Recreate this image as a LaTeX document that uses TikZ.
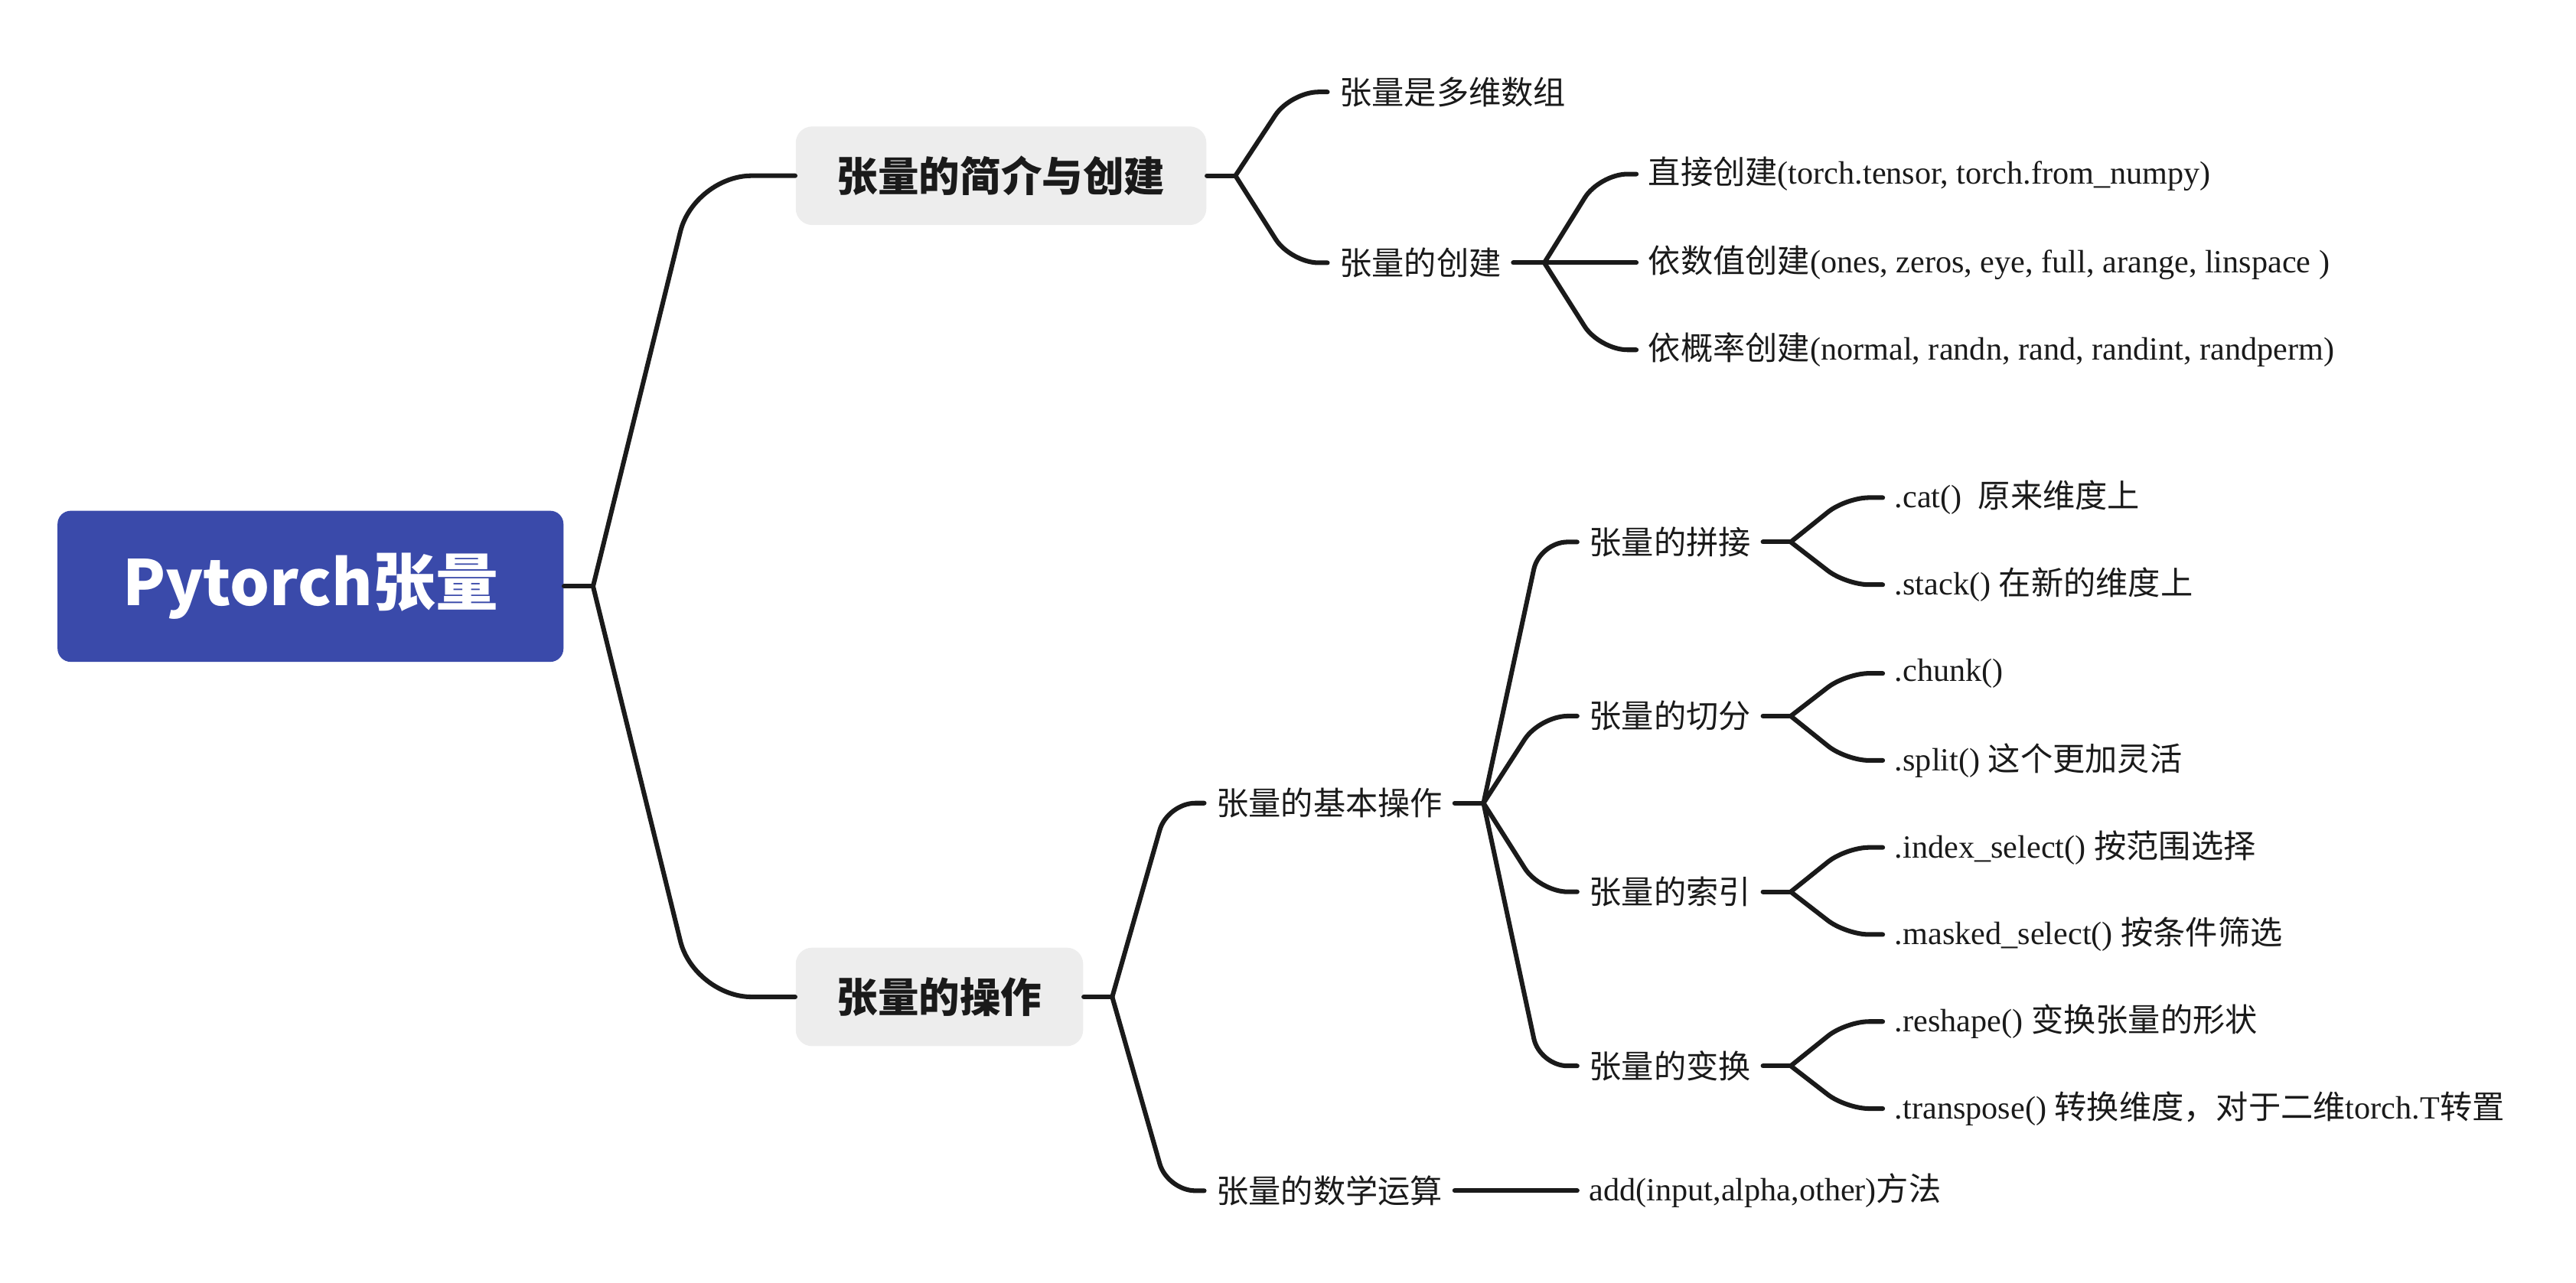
\documentclass[tikz,border=0pt]{standalone}
\usepackage{fontspec}
\setmainfont{Liberation Serif}
\newfontfamily\cjk{Noto Sans CJK SC}
\usepackage{tikz}
\usetikzlibrary{calc}

\definecolor{rootblue}{HTML}{3A4AAA}
\definecolor{topicgray}{HTML}{EDEDED}
\definecolor{inkline}{HTML}{1A1A1A}
\newcommand{\zh}[1]{{\cjk #1}}

\begin{document}
\begin{tikzpicture}[x=0.02cm, y=-0.02cm,
    rootbox/.style={fill=rootblue, rounded corners=0.16cm, text=white, minimum width=6.16cm, minimum height=1.84cm, font=\cjk\bfseries\fontsize{21.7}{25}\selectfont},
    topicbox/.style={fill=topicgray, rounded corners=0.2cm, anchor=west, minimum height=1.2cm, text=inkline, font=\cjk\bfseries\fontsize{14.2}{17}\selectfont},
    sub/.style={anchor=west, inner xsep=0.14cm, inner ysep=2pt, text=inkline, font=\cjk\fontsize{11.2}{13}\selectfont},
    leaf/.style={anchor=west, inner xsep=0.14cm, inner ysep=2pt, text=inkline, font=\fontsize{11.2}{13}\selectfont},
    branch/.style={draw=inkline, line width=1.6pt, line cap=round, rounded corners=#1},
    branch/.default=0.34cm,
    twig/.style={to path={let \p1=(\tikztostart), \p2=(\tikztotarget) in -- ({\x1+#1*(\x2-\x1)},\y2) -- (\tikztotarget)}},
    twig/.default=0.6
]
    \useasboundingbox (0,0) rectangle (1568,781);

    % Root and main topics
    \node[rootbox] (root) at (189,357) {Pytorch张量};
    \node[topicbox, minimum width=5cm] (intro) at (484,107) {张量的简介与创建};
    \node[topicbox, minimum width=3.5cm] (ops) at (484,607) {张量的操作};

    \coordinate (j0) at (361,357);
    \draw[branch] (root.east) -- (j0);
    \draw[branch=0.7cm] (j0) to[twig=0.5] (intro.west);
    \draw[branch=0.7cm] (j0) to[twig=0.5] (ops.west);

    % Intro and creation
    \node[sub] (what) at (808,56) {张量是多维数组};
    \node[sub] (create) at (808,160) {张量的创建};
    \node[leaf] (direct) at (996,106) {\zh{直接创建}(torch.tensor, torch.from\_numpy)};
    \node[leaf] (bynum) at (996,160) {\zh{依数值创建}(ones, zeros, eye, full, arange, linspace )};
    \node[leaf] (byprob) at (996,213) {\zh{依概率创建}(normal, randn, rand, randint, randperm)};

    \coordinate (j1) at (752,107);
    \coordinate (j12) at (940,160);
    \draw[branch] (intro.east) -- (j1);
    \draw[branch] (j1) to[twig] (what.west);
    \draw[branch] (j1) to[twig] (create.west);
    \draw[branch] (create.east) -- (j12);
    \draw[branch] (j12) to[twig] (direct.west);
    \draw[branch] (j12) -- (bynum.west);
    \draw[branch] (j12) to[twig] (byprob.west);

    % Operations
    \node[sub] (basic) at (733,489) {张量的基本操作};
    \node[sub] (math) at (733,725) {张量的数学运算};
    \node[leaf] (add) at (960,725) {add(input,alpha,other)\zh{方法}};

    \coordinate (j2) at (677,607);
    \coordinate (j21) at (903,489);
    \draw[branch] (ops.east) -- (j2);
    \draw[branch] (j2) to[twig] (basic.west);
    \draw[branch] (j2) to[twig] (math.west);
    \draw[branch] (math.east) -- (add.west);
    \draw[branch] (basic.east) -- (j21);

    % Basic operations
    \node[sub] (cat) at (960,330) {张量的拼接};
    \node[sub] (split) at (960,436) {张量的切分};
    \node[sub] (index) at (960,543) {张量的索引};
    \node[sub] (shape) at (960,649) {张量的变换};
    \draw[branch] (j21) to[twig] (cat.west);
    \draw[branch] (j21) to[twig] (split.west);
    \draw[branch] (j21) to[twig] (index.west);
    \draw[branch] (j21) to[twig] (shape.west);

    \node[leaf] (catA) at (1146,303) {.cat()\ \ \zh{原来维度上}};
    \node[leaf] (catB) at (1146,356) {.stack() \zh{在新的维度上}};
    \node[leaf] (splA) at (1146,410) {.chunk()};
    \node[leaf] (splB) at (1146,463) {.split() \zh{这个更加灵活}};
    \node[leaf] (idxA) at (1146,516) {.index\_select() \zh{按范围选择}};
    \node[leaf] (idxB) at (1146,569) {.masked\_select() \zh{按条件筛选}};
    \node[leaf] (shpA) at (1146,622) {.reshape() \zh{变换张量的形状}};
    \node[leaf] (shpB) at (1146,675) {.transpose() \zh{转换维度，对于二维}torch.T\zh{转置}};

    \coordinate (jc) at (1090,330);
    \coordinate (js) at (1090,436);
    \coordinate (ji) at (1090,543);
    \coordinate (jt) at (1090,649);
    \draw[branch] (cat.east) -- (jc);
    \draw[branch] (split.east) -- (js);
    \draw[branch] (index.east) -- (ji);
    \draw[branch] (shape.east) -- (jt);
    \draw[branch=0.28cm] (jc) to[twig] (catA.west);
    \draw[branch=0.28cm] (jc) to[twig] (catB.west);
    \draw[branch=0.28cm] (js) to[twig] (splA.west);
    \draw[branch=0.28cm] (js) to[twig] (splB.west);
    \draw[branch=0.28cm] (ji) to[twig] (idxA.west);
    \draw[branch=0.28cm] (ji) to[twig] (idxB.west);
    \draw[branch=0.28cm] (jt) to[twig] (shpA.west);
    \draw[branch=0.28cm] (jt) to[twig] (shpB.west);
\end{tikzpicture}
\end{document}
